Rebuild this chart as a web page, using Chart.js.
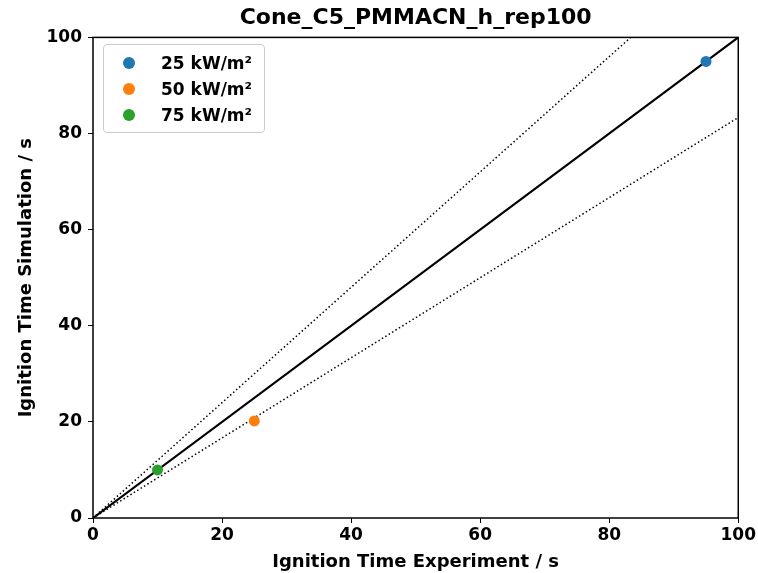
<!DOCTYPE html>
<html>
<head>
<meta charset="utf-8">
<script src="https://cdn.jsdelivr.net/npm/chart.js@4.4.0/dist/chart.umd.min.js"></script>
<style>
    html, body { margin: 0; padding: 0; background: #fff; }
    #wrap { position: relative; width: 758px; height: 573px; }
    #legend {
        position: absolute; left: 103px; top: 44px; width: 160px;
        border: 1px solid #ccc; border-radius: 4px; background: rgba(255,255,255,0.8);
        font: bold 17px "DejaVu Sans", sans-serif; padding: 5px 0 4px 0;
    }
    #legend div { height: 26px; line-height: 26px; position: relative; padding-left: 57px; }
    #legend span {
        position: absolute; left: 19px; top: 7px; width: 12px; height: 12px; border-radius: 50%;
    }
</style>
</head>
<body>
<div id="wrap">
    <canvas id="chart" width="758" height="573"></canvas>
    <div id="legend"></div>
</div>
<script>
// dados
var series_labels = ["25 kW/m²", "50 kW/m²", "75 kW/m²"];
var series_colors = ["#1f77b4", "#ff7f0e", "#2ca02c"];
var experiment = [95, 25, 10];
var simulation = [95, 20.2, 10];
var ticks_x = [0, 20, 40, 60, 80, 100];
var ticks_y = [0, 20, 40, 60, 80, 100];
var axis_max = 100;
var factor = 1.2;

document.addEventListener("DOMContentLoaded", function() {

    var datasets = [];
    for (var i = 0; i < series_labels.length; i++) {
        datasets.push({
            label: series_labels[i],
            data: [{x: experiment[i], y: simulation[i]}],
            backgroundColor: series_colors[i],
            borderColor: series_colors[i],
            pointRadius: 5.5,
            pointBorderWidth: 0
        });
    }
    // linha 1:1
    datasets.push({
        label: "ideal",
        data: [{x: 0, y: 0}, {x: axis_max, y: axis_max}],
        showLine: true, borderColor: "#000", borderWidth: 2.2, pointRadius: 0
    });
    // linhas +/- 20%
    datasets.push({
        label: "upper",
        data: [{x: 0, y: 0}, {x: axis_max / factor, y: axis_max}],
        showLine: true, borderColor: "#000", borderWidth: 1.5, borderDash: [1.5, 2.5], pointRadius: 0
    });
    datasets.push({
        label: "lower",
        data: [{x: 0, y: 0}, {x: axis_max, y: axis_max / factor}],
        showLine: true, borderColor: "#000", borderWidth: 1.5, borderDash: [1.5, 2.5], pointRadius: 0
    });

    var fonte = {family: "'DejaVu Sans', sans-serif", weight: "bold", size: 18};
    var fonte_ticks = {family: "'DejaVu Sans', sans-serif", weight: "bold", size: 17};

    var moldura = {
        id: "moldura",
        afterDatasetsDraw: function(chart) {
            var c = chart.ctx, a = chart.chartArea;
            c.save();
            c.strokeStyle = "#000";
            c.lineWidth = 1.5;
            c.strokeRect(a.left, a.top, a.right - a.left, a.bottom - a.top);
            c.restore();
        }
    };

    var opcoes = {
        responsive: false,
        animation: false,
        layout: { padding: { left: 0, right: 19, top: 0, bottom: 0 } },
        plugins: {
            legend: { display: false },
            tooltip: { enabled: false },
            title: {
                display: true,
                fullSize: false,
                text: "Cone_C5_PMMACN_h_rep100",
                color: "#000",
                font: {family: "'DejaVu Sans', sans-serif", weight: "bold", size: 22},
                padding: { top: 5, bottom: 6 }
            }
        },
        scales: {
            x: {
                type: "linear", min: 0, max: axis_max,
                afterBuildTicks: function(s) { s.ticks = ticks_x.map(function(v) { return {value: v}; }); },
                afterFit: function(s) { s.height = 55; },
                grid: { drawOnChartArea: false, drawTicks: true, tickLength: 5, color: "#000", lineWidth: 1 },
                border: { display: false },
                ticks: { color: "#000", font: fonte_ticks, padding: 2, maxRotation: 0 },
                title: { display: true, text: "Ignition Time Experiment / s", color: "#000", font: fonte, padding: { top: 0, bottom: 0 } }
            },
            y: {
                type: "linear", min: 0, max: axis_max,
                afterBuildTicks: function(s) { s.ticks = ticks_y.map(function(v) { return {value: v}; }); },
                afterFit: function(s) { s.width = 93; },
                grid: { drawOnChartArea: false, drawTicks: true, tickLength: 5, color: "#000", lineWidth: 1 },
                border: { display: false },
                ticks: { color: "#000", font: fonte_ticks, padding: 6 },
                title: { display: true, text: "Ignition Time Simulation / s", color: "#000", font: fonte, padding: { top: 16, bottom: 0 } }
            }
        }
    };

    var ctx = document.getElementById("chart").getContext("2d");
    var grafico = new Chart(ctx, {
        type: "scatter",
        data: { datasets: datasets },
        options: opcoes,
        plugins: [moldura]
    });

    var leg = document.getElementById("legend");
    for (var j = 0; j < series_labels.length; j++) {
        var d = document.createElement("div");
        d.innerHTML = '<span style="background:' + series_colors[j] + '"></span>' + series_labels[j];
        leg.appendChild(d);
    }
});
</script>
</body>
</html>
